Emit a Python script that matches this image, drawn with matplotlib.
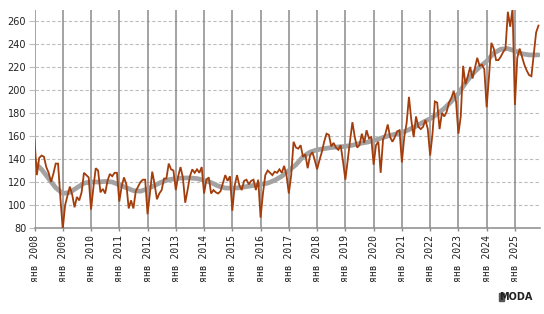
import numpy as np
import matplotlib
matplotlib.use("Agg")
import matplotlib.pyplot as plt
from matplotlib.patches import Rectangle

# ---------------- data ----------------
start_year = 2008
values_2008 = [157, 126, 141, 143, 142, 133, 128, 120, 127, 136, 136, 106]
values_2009 = [79, 100, 108, 116, 109, 98, 107, 104, 111, 128, 126, 124]
values_2010 = [96, 115, 132, 130, 111, 114, 110, 121, 127, 125, 128, 128]
values_2011 = [103, 116, 124, 118, 97, 104, 97, 112, 116, 120, 122, 122]
values_2012 = [92, 110, 129, 118, 105, 110, 113, 123, 123, 136, 131, 130]
values_2013 = [113, 125, 133, 124, 102, 113, 125, 131, 128, 131, 128, 133]
values_2014 = [110, 122, 124, 110, 113, 111, 110, 112, 119, 126, 121, 125]
values_2015 = [95, 117, 126, 117, 113, 121, 122, 118, 121, 122, 113, 122]
values_2016 = [89, 110, 126, 130, 128, 126, 129, 128, 131, 128, 134, 126]
values_2017 = [110, 126, 155, 150, 149, 152, 142, 144, 132, 143, 146, 139]
values_2018 = [131, 139, 146, 155, 162, 161, 151, 154, 150, 148, 152, 138]
values_2019 = [122, 139, 156, 172, 159, 150, 152, 162, 154, 165, 158, 159]
values_2020 = [135, 152, 155, 128, 157, 162, 170, 159, 155, 159, 164, 165]
values_2021 = [137, 159, 171, 194, 174, 159, 177, 168, 166, 168, 174, 166]
values_2022 = [143, 162, 190, 189, 166, 180, 177, 181, 189, 193, 199, 190]
values_2023 = [162, 177, 221, 205, 212, 220, 210, 219, 228, 221, 222, 218]
values_2024 = [185, 212, 241, 236, 226, 226, 229, 233, 236, 268, 255, 271]
values_2025 = [187, 228, 236, 229, 222, 217, 213, 212, 231, 250, 256]

# trend (seasonally smoothed), read quarterly: Jan, Apr, Jul, Oct of each year
trend_quarterly = [
    137, 131, 123, 115,      # 2008
    110, 111, 115, 119,      # 2009
    120, 120, 120.5, 120,    # 2010
    117.5, 115, 112.5, 112,  # 2011
    114, 117, 120, 122,      # 2012
    123, 123.5, 123.5, 123,  # 2013
    121.5, 119.5, 116.5, 114.8,  # 2014
    114.5, 115, 116, 117,    # 2015
    118, 119, 121.5, 125,    # 2016
    130, 135, 142, 146,      # 2017
    148, 149, 150, 150.5,    # 2018
    151, 152, 153.5, 154.5,  # 2019
    156, 158, 160, 161.5,    # 2020
    163, 165.5, 168.5, 172,  # 2021
    175, 179, 184, 190,      # 2022
    197, 206, 214, 220,      # 2023
    225, 232, 235.5, 236,    # 2024
    234, 231.5, 230.5, 230.5 # 2025
]
trend_last = 230.5  # Nov 2025

year_ticks = list(range(2008, 2026))
tick_labels = [f"янв {y}" for y in year_ticks]
y_ticks = list(range(80, 261, 20))

# ---------------- assemble ----------------
monthly = (values_2008 + values_2009 + values_2010 + values_2011 + values_2012 +
           values_2013 + values_2014 + values_2015 + values_2016 + values_2017 +
           values_2018 + values_2019 + values_2020 + values_2021 + values_2022 +
           values_2023 + values_2024 + values_2025)
x_monthly = start_year + np.arange(len(monthly)) / 12.0
trend_vals = trend_quarterly + [trend_last]
x_trend = list(start_year + np.arange(len(trend_quarterly)) * 0.25) + [x_monthly[-1]]

# ---------------- figure ----------------
fig = plt.figure(figsize=(5.44, 3.14), dpi=100)
ax = fig.add_axes([34.5 / 544, 86 / 314, (540 - 34.5) / 544, (228 - 9.5) / 314])

ax.set_xlim(2008, 2008 + (540 - 34.5) / 28.26)
ax.set_ylim(80, 270)

for y in y_ticks[1:]:
    ax.axhline(y, color="#bdbdbd", lw=0.8, ls=(0, (3, 2)), zorder=1)
for yr in year_ticks:
    ax.axvline(yr, color="#8a8a8a", lw=1.1, zorder=1.5)

ax.plot(x_trend, trend_vals, color="#a3a3a3", lw=3.4, solid_capstyle="round",
        zorder=2)
ax.plot(x_monthly, monthly, color="#a33d0c", lw=1.3, zorder=3,
        solid_joinstyle="miter")

for s in ["top", "right", "left"]:
    ax.spines[s].set_visible(False)
ax.spines["bottom"].set_color("#8a8a8a")
ax.spines["bottom"].set_linewidth(1.1)

ax.set_yticks(y_ticks)
ax.set_yticklabels([str(v) for v in y_ticks], fontsize=7, color="#222222",
                   family="DejaVu Sans")
ax.tick_params(axis="y", length=4, width=0.8, color="#bdbdbd", pad=2)

ax.set_xticks(year_ticks)
ax.set_xticklabels(tick_labels, rotation=90, fontsize=7, color="#222222",
                   family="DejaVu Sans Mono", va="top", ha="center")
ax.tick_params(axis="x", length=2, width=1, color="#8a8a8a", pad=3)

# logo
fig.patches.append(Rectangle((499 / 544, 13 / 314), 5 / 544, 8 / 314,
                             transform=fig.transFigure, color="#555555"))
fig.text(533 / 544, 12 / 314, "MODA", ha="right", va="bottom", fontsize=7,
         weight="bold", color="#222222", family="DejaVu Sans")

fig.savefig("out.png", dpi=100)
